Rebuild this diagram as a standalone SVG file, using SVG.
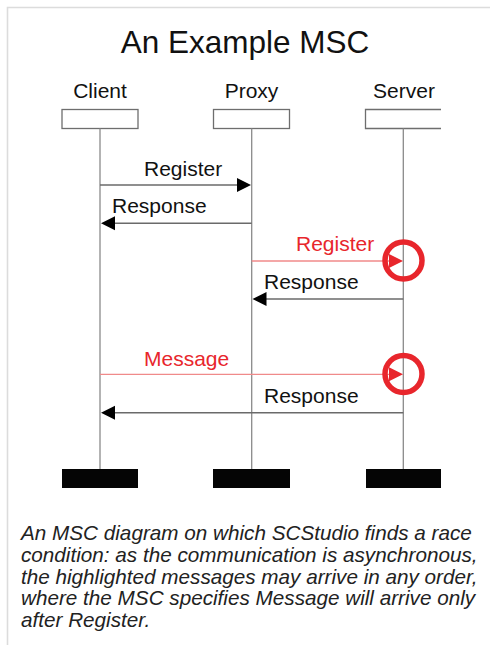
<svg xmlns="http://www.w3.org/2000/svg" width="490" height="645" viewBox="0 0 490 645">
<defs>
<style>
text{font-family:"Liberation Sans",Arial,sans-serif;fill:#111}
.lbl{font-size:21px}
.red{fill:#e8262c}
.cap{font-size:20.7px;font-style:italic;fill:#222}
.life{stroke:#8a8a8a;stroke-width:1.3;fill:none}
.box{fill:#fff;stroke:#6e6e6e;stroke-width:1.3}
.msg{stroke:#6a6a6a;stroke-width:1.4;fill:none}
.rmsg{stroke:#f08a8a;stroke-width:1.3;fill:none}
.head{fill:#000}
.rhead{fill:#e8262c}
.ring{fill:none;stroke:#e8262c;stroke-width:5.5}
.end{fill:#050505}
</style>
</defs>
<rect width="490" height="645" fill="#fff"/>
<path d="M7.5,645 V7.5 H490" fill="none" stroke="#dcdcdc" stroke-width="1.6"/>
<text x="245" y="52.5" font-size="31.5" text-anchor="middle" fill="#222">An Example MSC</text>

<g id="client">
<text class="lbl" x="100" y="98" text-anchor="middle">Client</text>
<rect class="box" x="62" y="109.5" width="76" height="19"/>
<line class="life" x1="100" y1="128.5" x2="100" y2="469"/>
<rect class="end" x="62" y="469" width="76" height="19"/>
</g>
<g id="proxy">
<text class="lbl" x="251.5" y="98" text-anchor="middle">Proxy</text>
<rect class="box" x="213.5" y="109.5" width="76" height="19"/>
<line class="life" x1="251.7" y1="128.5" x2="251.7" y2="469"/>
<rect class="end" x="213" y="469" width="77" height="19"/>
</g>
<g id="server">
<text class="lbl" x="404" y="98" text-anchor="middle">Server</text>
<path class="box" d="M441,109.5 H365.5 V128.5 H441"/>
<line class="life" x1="403.3" y1="128.5" x2="403.3" y2="469"/>
<rect class="end" x="366" y="469" width="75" height="19"/>
</g>

<g id="connectors">
<line class="msg" x1="100" y1="185" x2="238" y2="185"/>
<polygon class="head" points="251,185 237,178 237,192"/>
<text class="lbl" x="144" y="176">Register</text>

<line class="msg" x1="251.7" y1="223.3" x2="113" y2="223.3"/>
<polygon class="head" points="101,223.3 115,216.3 115,230.3"/>
<text class="lbl" x="112" y="213">Response</text>

<line class="rmsg" x1="251.7" y1="261" x2="390" y2="261"/>
<polygon class="rhead" points="403,261 389,254 389,268"/>
<circle class="ring" cx="403.5" cy="260.5" r="18.5"/>
<text class="lbl red" x="296" y="251">Register</text>

<line class="msg" x1="403.3" y1="299" x2="265" y2="299"/>
<polygon class="head" points="252.5,299 266.5,292 266.5,306"/>
<text class="lbl" x="264" y="289">Response</text>

<line class="rmsg" x1="100" y1="374.3" x2="390" y2="374.3"/>
<polygon class="rhead" points="403,374.3 389,367.3 389,381.3"/>
<circle class="ring" cx="403.5" cy="374" r="18.5"/>
<text class="lbl red" x="144" y="366">Message</text>

<line class="msg" x1="403.3" y1="412.7" x2="113" y2="412.7"/>
<polygon class="head" points="101,412.7 115,405.7 115,419.7"/>
<text class="lbl" x="264" y="403">Response</text>
</g>

<g id="caption">
<text class="cap" x="21" y="539.5">An MSC diagram on which SCStudio finds a race</text>
<text class="cap" x="21" y="561.5">condition: as the communication is asynchronous,</text>
<text class="cap" x="21" y="583.5">the highlighted messages may arrive in any order,</text>
<text class="cap" x="21" y="605">where the MSC specifies Message will arrive only</text>
<text class="cap" x="21" y="626.5">after Register.</text>
</g>
</svg>
